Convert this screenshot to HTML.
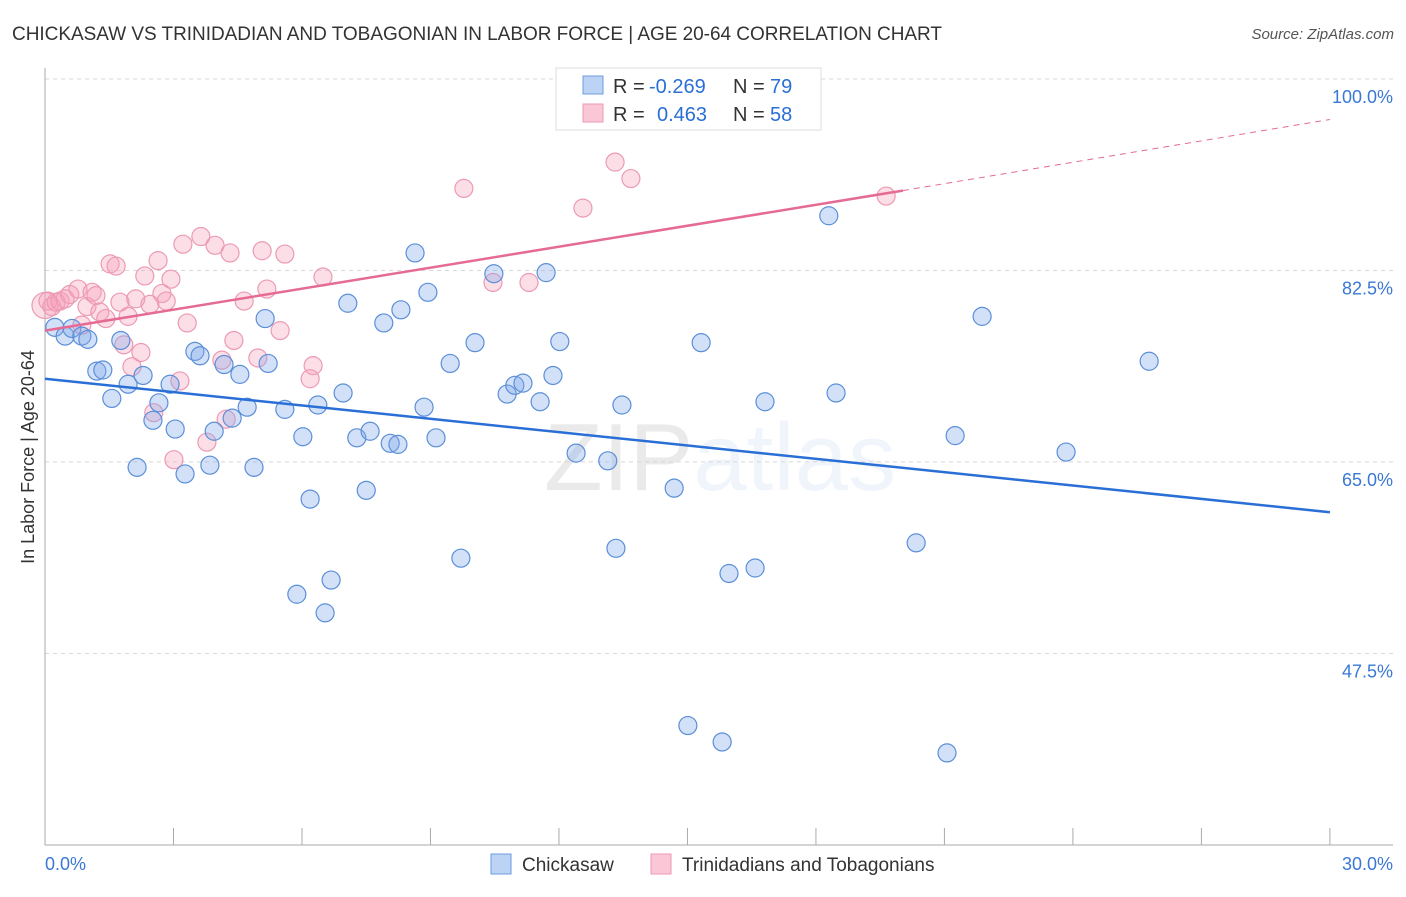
<!DOCTYPE html>
<html><head><meta charset="utf-8">
<style>
body{margin:0;background:#fff;font-family:"Liberation Sans",sans-serif;}
svg text{font-family:"Liberation Sans",sans-serif;}
</style></head>
<body>
<svg id="chart" width="1406" height="892" xmlns="http://www.w3.org/2000/svg">
<text x="12" y="40" font-size="19" fill="#333" textLength="930">CHICKASAW VS TRINIDADIAN AND TOBAGONIAN IN LABOR FORCE | AGE 20-64 CORRELATION CHART</text>
<text x="1394" y="39" font-size="15" fill="#555" text-anchor="end" font-style="italic">Source: ZipAtlas.com</text>
<text x="720" y="490" font-size="96" text-anchor="middle" fill="#000" opacity="0.08" font-family="Liberation Serif">ZIP<tspan fill="#2a6fd6" opacity="0.9" font-family="Liberation Sans">atlas</tspan></text>
<g id="grid"></g><g id="marks"></g>
<text transform="translate(34,457) rotate(-90)" font-size="18" fill="#333" text-anchor="middle">In Labor Force | Age 20-64</text>
<g>
<rect x="556" y="68" width="265" height="62" fill="#fff" stroke="#ddd"/>
<rect x="583" y="76" width="20" height="18" fill="#bcd3f5" stroke="#6d9be0"/>
<rect x="583" y="104" width="20" height="18" fill="#f9c7d6" stroke="#ec9ab4"/>
<text x="613" y="93" font-size="20" fill="#333">R =</text>
<text x="649" y="93" font-size="20" fill="#2a6fd6">-0.269</text>
<text x="733" y="93" font-size="20" fill="#333">N =</text>
<text x="770" y="93" font-size="20" fill="#2a6fd6">79</text>
<text x="613" y="121" font-size="20" fill="#333">R =</text>
<text x="657" y="121" font-size="20" fill="#2a6fd6">0.463</text>
<text x="733" y="121" font-size="20" fill="#333">N =</text>
<text x="770" y="121" font-size="20" fill="#2a6fd6">58</text>
</g>
<g>
<rect x="491" y="854" width="20" height="20" fill="#bcd3f5" stroke="#6d9be0"/>
<text x="522" y="871" font-size="19" fill="#333">Chickasaw</text>
<rect x="651" y="854" width="20" height="20" fill="#f9c7d6" stroke="#ec9ab4"/>
<text x="682" y="871" font-size="19" fill="#333">Trinidadians and Tobagonians</text>
</g>
</svg>
<script>
const yTicks=[100,82.5,65,47.5];
const yTickLabels=["100.0%","82.5%","65.0%","47.5%"];
const blueX=[0.23,0.47,0.63,0.86,1.0,1.21,1.35,1.56,1.77,1.94,2.29,2.15,2.52,2.66,2.92,3.04,3.27,3.5,3.62,3.85,3.95,4.18,4.37,4.55,4.72,4.88,5.14,5.21,5.6,6.02,6.19,6.37,5.88,6.54,6.68,6.96,7.07,7.28,7.5,7.59,7.91,8.06,8.24,8.31,8.64,8.85,8.94,9.13,9.46,9.71,10.04,10.48,10.79,10.97,11.16,11.56,11.7,11.86,12.02,12.4,13.14,13.33,13.47,14.69,15.01,15.32,15.81,15.97,16.58,16.81,18.3,18.47,20.34,21.06,21.25,21.88,23.84,25.78];
const blueY=[77.3,76.5,77.2,76.5,76.2,73.3,73.4,70.8,76.1,72.1,72.9,64.5,68.8,70.4,72.1,68.0,63.9,75.1,74.7,64.7,67.8,73.9,69.0,73.0,70.0,64.5,78.1,74.0,69.8,67.3,61.6,70.2,52.9,51.2,54.2,71.3,79.5,67.2,62.4,67.8,77.7,66.7,66.6,78.9,84.1,70.0,80.5,67.2,74.0,56.2,75.9,82.2,71.2,72.0,72.2,70.5,82.3,72.9,76.0,65.8,65.1,57.1,70.2,62.6,40.9,75.9,39.4,54.8,55.3,70.5,87.5,71.3,57.6,38.4,67.4,78.3,65.9,74.2];
const pinkX=[0.0,0.07,0.16,0.26,0.35,0.47,0.58,0.77,0.86,0.98,1.1,1.19,1.28,1.42,1.52,1.66,1.75,1.84,1.94,2.03,2.12,2.24,2.33,2.45,2.54,2.64,2.73,2.83,2.94,3.01,3.15,3.22,3.32,3.64,3.78,3.97,4.13,4.23,4.32,4.41,4.65,4.97,5.07,5.18,5.49,5.6,6.19,6.26,6.49,9.78,10.46,11.3,12.56,13.31,13.68,19.64];
const pinkY=[79.3,79.7,79.2,79.6,79.7,79.9,80.3,80.8,77.5,79.2,80.5,80.2,78.7,78.1,83.1,82.9,79.6,75.7,78.3,73.7,79.9,75.0,82.0,79.4,69.5,83.4,80.4,79.7,81.7,65.2,72.4,84.9,77.7,85.6,66.8,84.8,74.3,68.9,84.1,76.1,79.7,74.5,84.3,80.8,77.0,84.0,72.6,73.8,81.9,90.0,81.4,81.4,88.2,92.4,90.9,89.3];
const blueTrend=[[0,72.6],[30,60.4]];
const pinkTrend=[[0,77.0],[20.03,89.8],[30,96.3]];
const NS="http://www.w3.org/2000/svg";
const X=v=>45+v*42.83, Y=v=>79+(100-v)*10.94;
const grid=document.getElementById('grid'), marks=document.getElementById('marks');
function mk(tag,attrs,parent){const e=document.createElementNS(NS,tag);for(const k in attrs)e.setAttribute(k,attrs[k]);parent.appendChild(e);return e;}
yTicks.forEach((t,i)=>{
 const l=mk('line',{x1:45,x2:1393,y1:Y(t),y2:Y(t),stroke:'#d8d8d8','stroke-dasharray':'4,4'},grid);
 
 
 const tx=mk('text',{x:1393,y:Y(t)+24,'font-size':18,fill:'#3a78d4','text-anchor':'end'},grid);
 tx.textContent=yTickLabels[i];
 
 
});
const ax=mk('line',{x1:45,x2:45,y1:68,y2:845,stroke:'#aaa'},grid);


const bx=mk('line',{x1:45,x2:1393,y1:845,y2:845,stroke:'#aaa'},grid);


for(let i=0;i<=10;i++){const t=mk('line',{x1:X(i*3),x2:X(i*3),y1:828,y2:845,stroke:'#aaa'},grid);
 
 }
[["0.0%",45,'start'],["30.0%",1393,'end']].forEach(a=>{const t=mk('text',{x:a[1],y:870,'font-size':18,fill:'#3a78d4','text-anchor':a[2]},grid);t.textContent=a[0];
 
 });
pinkX.forEach((x,i)=>{const c=mk('circle',{cx:X(x),cy:Y(pinkY[i]),r:i==0?13:9,fill:'rgba(245,160,186,0.35)',stroke:'#ec9ab4','stroke-width':1.2},marks);
 
 });
blueX.forEach((x,i)=>{const c=mk('circle',{cx:X(x),cy:Y(blueY[i]),r:9,fill:'rgba(130,170,235,0.35)',stroke:'#5b8fd8','stroke-width':1.2},marks);
 
 });
const bl=mk('line',{x1:X(blueTrend[0][0]),y1:Y(blueTrend[0][1]),x2:X(blueTrend[1][0]),y2:Y(blueTrend[1][1]),stroke:'#2a6fd6','stroke-width':2.5},marks);


const pl=mk('line',{x1:X(pinkTrend[0][0]),y1:Y(pinkTrend[0][1]),x2:X(pinkTrend[1][0]),y2:Y(pinkTrend[1][1]),stroke:'#e56b94','stroke-width':2.5},marks);


const pd=mk('line',{x1:X(pinkTrend[1][0]),y1:Y(pinkTrend[1][1]),x2:X(pinkTrend[2][0]),y2:Y(pinkTrend[2][1]),stroke:'#e56b94','stroke-width':1,'stroke-dasharray':'6,5'},marks);


</script>
</body></html>
